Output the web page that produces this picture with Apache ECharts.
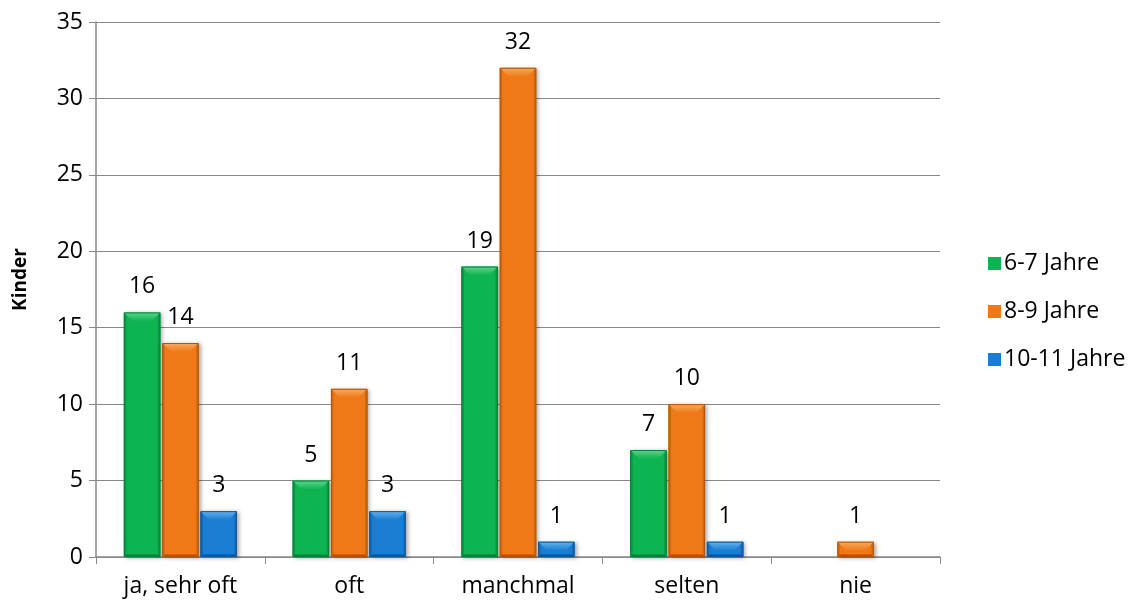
<!DOCTYPE html>
<html>
<head>
<meta charset="utf-8">
<script src="https://cdn.jsdelivr.net/npm/echarts@6/dist/echarts.min.js"></script>
<style>html,body{margin:0;padding:0;background:#fff;}#c{width:1142px;height:605px;}</style>
</head>
<body>
<div id="c"></div>
<script>
const categories = ['ja, sehr oft', 'oft', 'manchmal', 'selten', 'nie'];
const seriesNames = ['6-7 Jahre', '8-9 Jahre', '10-11 Jahre'];
const age67 = [16, 5, 19, 7, null];
const age89 = [14, 11, 32, 10, 1];
const age1011 = [3, 3, 1, 1, null];
const yTicks = [0, 5, 10, 15, 20, 25, 30, 35];

const palettes = [
  {face: '#0db451', top: '#5ad68d', side: '#099a44', bottom: '#077a35', border: '#08803a'},
  {face: '#ef7917', top: '#f9aa60', side: '#d46a10', bottom: '#a9510a', border: '#b0560b'},
  {face: '#1a7dd2', top: '#62b4ee', side: '#136bb7', bottom: '#0d528f', border: '#0e5799'}
];
const values = [age67, age89, age1011];
const font = '"Open Sans", sans-serif';
const FS = 23;
const CAT_GAP = 0.33, BAR_GAP = 0.05, NSER = 3;

function makeRender(si) {
  const p = palettes[si];
  return function (params, api) {
    const idx = api.value(0);
    const v = api.value(1);
    if (v == null || isNaN(v)) return;
    const base = api.coord([idx, 0]);
    const topPt = api.coord([idx, v]);
    const cw = api.size([1, 0])[0];
    const group = cw * (1 - CAT_GAP);
    const bw = group / (NSER + (NSER - 1) * BAR_GAP);
    const x0 = base[0] - group / 2 + si * bw * (1 + BAR_GAP);
    const x1 = x0 + bw;
    const y0 = topPt[1], y1 = base[1];
    const h = y1 - y0;
    const bt = Math.min(9, h * 0.6, bw / 2);
    const bs = 2.5;
    const poly = (pts, fill) => ({type: 'polygon', shape: {points: pts}, style: {fill: fill}});
    const topFill = new echarts.graphic.LinearGradient(0, 0, 0, 1, [
      {offset: 0, color: p.top}, {offset: 1, color: p.face}
    ]);
    return {
      type: 'group',
      children: [
        {type: 'rect', shape: {x: x0, y: y0, width: bw, height: h},
          style: {fill: p.face, shadowColor: 'rgba(0,0,0,0.35)', shadowBlur: 4, shadowOffsetX: 2, shadowOffsetY: 1}},
        poly([[x0, y0], [x1, y0], [x1 - bt, y0 + bt], [x0 + bt, y0 + bt]], topFill),
        poly([[x0, y0], [x0 + bs, y0 + bs], [x0 + bs, y1 - bs], [x0, y1]], p.side),
        poly([[x1, y0], [x1, y1], [x1 - bs, y1 - bs], [x1 - bs, y0 + bs]], p.side),
        poly([[x0, y1], [x1, y1], [x1 - bs, y1 - bs], [x0 + bs, y1 - bs]], p.bottom),
        {type: 'rect', shape: {x: x0 + 0.5, y: y0 + 0.5, width: bw - 1, height: h - 1}, style: {fill: 'none', stroke: p.border, lineWidth: 1}},
        {type: 'text', x: (x0 + x1) / 2, y: y0 - 14,
          style: {text: String(v), fill: '#000', font: FS + 'px ' + font, align: 'center', verticalAlign: 'bottom'}}
      ]
    };
  };
}

const chart = echarts.init(document.getElementById('c'));
chart.setOption({
  animation: false,
  textStyle: {fontFamily: font},
  grid: {left: 96, right: 202, top: 22, bottom: 48},
  legend: {
    orient: 'vertical', left: 983, top: 247, itemGap: 25,
    itemWidth: 13, itemHeight: 13, icon: 'rect',
    textStyle: {fontSize: FS, color: '#000', fontFamily: font, padding: [0, 0, 0, -2]},
    data: seriesNames
  },
  xAxis: {
    type: 'category', data: categories,
    axisLine: {lineStyle: {color: '#888', width: 1.5}},
    axisTick: {show: true, length: 7, lineStyle: {color: '#888'}},
    axisLabel: {fontSize: FS, color: '#000', margin: 18, fontFamily: font}
  },
  yAxis: {
    type: 'value', min: yTicks[0], max: yTicks[yTicks.length - 1], interval: 5,
    name: 'Kinder', nameLocation: 'middle', nameGap: 66, nameRotate: 90,
    nameTextStyle: {fontSize: 19, fontWeight: 'bold', color: '#000', fontFamily: font, padding: [0, 0, 0, 20]},
    axisLine: {show: true, lineStyle: {color: '#888', width: 1.5}},
    axisTick: {show: true, length: 7, inside: false, lineStyle: {color: '#888'}},
    axisLabel: {fontSize: FS, color: '#000', margin: 13, fontFamily: font},
    splitLine: {lineStyle: {color: '#888', width: 1}}
  },
  series: seriesNames.map((n, i) => ({
    name: n, type: 'custom',
    renderItem: makeRender(i),
    encode: {x: 0, y: 1},
    itemStyle: {color: palettes[i].face},
    data: values[i].map((v, j) => [j, v])
  }))
});
</script>
</body>
</html>
